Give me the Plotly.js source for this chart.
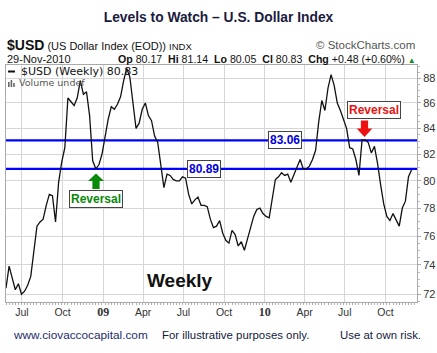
<!DOCTYPE html>
<html><head><meta charset="utf-8">
<script src="https://cdn.plot.ly/plotly-3.0.1.min.js"></script>
<style>html,body{margin:0;padding:0;background:#fff;}#chart{width:437px;height:353px;}</style>
</head><body><div id="chart"></div>
<script>
// ---- data ----
const firstWeek = '2008-05-26';   // weekly bars (Mondays)
const usdWeekly = [
 72.4,73.9,73.1,72.3,72.7,72.0,72.2,72.6,73.2,75.1,
 76.7,77.0,77.2,78.2,79.0,78.9,77.0,79.9,81.4,82.5,
 86.4,86.1,85.8,86.4,87.8,86.7,86.9,85.0,81.5,80.9,
 81.2,82.0,83.3,84.7,85.7,85.5,85.9,86.5,87.8,88.8,
 88.1,86.0,84.0,84.4,85.5,86.0,85.0,84.6,83.4,82.9,
 81.0,79.5,80.5,80.4,80.1,80.0,80.0,80.3,80.2,79.0,
 78.3,78.6,78.8,78.2,78.2,78.1,77.2,76.6,76.7,77.1,
 76.2,75.7,75.5,76.4,76.1,75.3,75.6,75.0,75.8,76.6,
 77.4,77.9,78.0,77.6,77.4,77.3,78.8,80.1,80.3,80.6,
 80.4,80.5,79.9,80.5,81.0,81.6,80.9,80.9,81.1,81.6,
 82.3,84.5,86.2,85.4,87.2,88.3,87.4,86.0,85.4,84.6,
 84.0,82.5,82.4,81.6,80.4,83.1,83.1,82.9,82.1,82.6,
 81.3,79.7,78.3,77.4,77.1,77.6,77.1,76.7,78.0,78.5,
 80.3,80.83
];
const levels = [83.06, 80.89];
const levelLabels = ['83.06', '80.89'];
const xTickVals = ['2008-07-01','2008-10-01','2009-01-01','2009-04-01','2009-07-01',
                   '2009-10-01','2010-01-01','2010-04-01','2010-07-01','2010-10-01'];
const xTickText = ['Jul','Oct','<span style="font-family:Liberation Serif;font-weight:bold;font-size:12px">09</span>','Apr','Jul',
                   'Oct','<span style="font-family:Liberation Serif;font-weight:bold;font-size:12px">10</span>','Apr','Jul','Oct'];
const yTickVals = [72,74,76,78,80,82,84,86,88];

// ---- derived ----
const DAY = 86400000;
const t0 = Date.parse(firstWeek + 'T00:00:00Z');
const dates = usdWeekly.map((v, i) => new Date(t0 + i * 7 * DAY).toISOString().slice(0, 10));
const xRange = ['2008-05-26', '2010-12-11 05:00'];
const yRange = [Math.log10(71.48), Math.log10(89.09)];
const minorY = [];
for (let v = 71.5; v <= 89; v += 0.5) minorY.push(v);

const L = 6, T = 65, W = 411, H = 237;
const px = x => (x - L) / W;
const py = y => 1 - (y - T) / H;
const pyVal = v => (Math.log10(v) - yRange[0]) / (yRange[1] - yRange[0]);

const FONT = 'Liberation Sans, Arial, sans-serif';

const traces = levels.map(lv => ({
  x: xRange, y: [lv, lv], mode: 'lines', hoverinfo: 'skip',
  line: {color: '#0000ff', width: 2.2}
}));
traces.push({
  x: dates, y: usdWeekly, mode: 'lines', hoverinfo: 'skip',
  line: {color: '#111111', width: 1.3}
});

function arrowUp(cx, tipY, baseY, headY, hw, sw, color) {
  const p = `M${px(cx)},${py(tipY)} L${px(cx+hw)},${py(headY)} L${px(cx+sw)},${py(headY)} L${px(cx+sw)},${py(baseY)} L${px(cx-sw)},${py(baseY)} L${px(cx-sw)},${py(headY)} L${px(cx-hw)},${py(headY)} Z`;
  return {type: 'path', xref: 'paper', yref: 'paper', path: p, fillcolor: color, line: {color: color, width: 0}};
}

const shapes = [
  arrowUp(96, 173.5, 189, 181, 8, 3.6, '#0a8a0a'),
  arrowUp(364.5, 137, 120.5, 128.5, 7.8, 3.6, '#ee1111'),
  // volume icon bars
  {type:'rect', xref:'paper', yref:'paper', x0:px(8), x1:px(9.6), y0:py(87), y1:py(82), fillcolor:'#666', line:{width:0}},
  {type:'rect', xref:'paper', yref:'paper', x0:px(10.6), x1:px(12.2), y0:py(87), y1:py(80), fillcolor:'#666', line:{width:0}},
  {type:'rect', xref:'paper', yref:'paper', x0:px(13.2), x1:px(14.8), y0:py(87), y1:py(83), fillcolor:'#666', line:{width:0}},
  // legend dash
  {type:'line', xref:'paper', yref:'paper', x0:px(8), x1:px(15), y0:py(71.5), y1:py(71.5), line:{color:'#111', width:2}}
];

const ann = [];
function A(o) { ann.push(Object.assign({xref:'paper', yref:'paper', showarrow:false}, o)); }

// level labels
A({x: px(285), y: pyVal(levels[0]), text: '<b>' + levelLabels[0] + '</b>', font:{family:FONT, size:12, color:'#0000dd'},
   bgcolor:'#fff', bordercolor:'#444', borderwidth:1, borderpad:1, xanchor:'center', yanchor:'middle'});
A({x: px(203.5), y: pyVal(levels[1]), text: '<b>' + levelLabels[1] + '</b>', font:{family:FONT, size:12, color:'#0000dd'},
   bgcolor:'#fff', bordercolor:'#444', borderwidth:1, borderpad:1, xanchor:'center', yanchor:'middle'});
// reversal labels
A({x: px(96), y: py(198.5), text: '<b>Reversal</b>', font:{family:FONT, size:12, color:'#0a8a0a'},
   bgcolor:'#fff', bordercolor:'#444', borderwidth:1, borderpad:1, xanchor:'center', yanchor:'middle'});
A({x: px(373.5), y: py(110), text: '<b>Reversal</b>', font:{family:FONT, size:12, color:'#ee1111'},
   bgcolor:'#fff', bordercolor:'#444', borderwidth:1, borderpad:1, xanchor:'center', yanchor:'middle'});
// weekly
A({x: px(180), y: py(280), text: '<b>Weekly</b>', font:{family:FONT, size:19, color:'#111'}, xanchor:'center', yanchor:'middle'});
// legend text
A({x: px(19), y: py(71.5), text: '$USD (Weekly) 80.83', font:{family:'DejaVu Sans', size:11, color:'#111'}, xanchor:'left', yanchor:'middle'});
A({x: px(17), y: py(83), text: 'Volume undef', font:{family:'DejaVu Sans', size:9.5, color:'#555'}, xanchor:'left', yanchor:'middle'});
// header
A({x: px(5), y: py(45), text: '<span style="font-size:14px"><b>$USD</b></span> (US Dollar Index (EOD)) <span style="font-size:9.5px">INDX</span>',
   font:{family:FONT, size:11, color:'#111'}, xanchor:'left', yanchor:'middle'});
A({x: px(417), y: py(45), text: '© StockCharts.com', font:{family:FONT, size:11.5, color:'#555'}, xanchor:'right', yanchor:'middle'});
A({x: px(5), y: py(58.5), text: '29-Nov-2010', font:{family:FONT, size:11, color:'#111'}, xanchor:'left', yanchor:'middle'});
A({x: px(418), y: py(58.5), text: '<b>Op</b> 80.17  <b>Hi</b> 81.14  <b>Lo</b> 80.05  <b>Cl</b> 80.83  <b>Chg</b> +0.48 (+0.60%) <span style="color:#1a8a1a;font-size:8px">▲</span>',
   font:{family:FONT, size:10.6, color:'#111'}, xanchor:'right', yanchor:'middle'});
// footer
A({x: px(11), y: py(335), text: 'www.ciovaccocapital.com', font:{family:FONT, size:11.8, color:'#1c2d6b'}, xanchor:'left', yanchor:'middle'});
A({x: px(160), y: py(335), text: 'For illustrative purposes only.', font:{family:FONT, size:11.4, color:'#111a40'}, xanchor:'left', yanchor:'middle'});
A({x: px(338), y: py(335), text: 'Use at own risk.', font:{family:FONT, size:11.4, color:'#111a40'}, xanchor:'left', yanchor:'middle'});

const layout = {
  width: 437, height: 353,
  margin: {l: L, r: 437 - L - W, t: T, b: 353 - T - H, pad: 0},
  paper_bgcolor: '#fff', plot_bgcolor: '#fff',
  showlegend: false,
  title: {text: '<b>Levels to Watch – U.S. Dollar Index</b>', font: {family: FONT, size: 13.8, color: '#1b1b3d'},
          x: 0.5, xanchor: 'center', y: 1 - 17.5 / 353, yanchor: 'middle'},
  xaxis: {
    type: 'date', range: xRange, tickmode: 'array', tickvals: xTickVals, ticktext: xTickText,
    showgrid: true, gridcolor: '#d6d6d6', gridwidth: 1, zeroline: false,
    showline: true, linecolor: '#aaaaaa', linewidth: 1, mirror: true,
    ticks: '', tickfont: {family: FONT, size: 10.5, color: '#333'},
    minor: {ticks: 'outside', ticklen: 2, tickcolor: '#b0b0b0', tickmode: 'linear', tick0: firstWeek, dtick: 7 * DAY, showgrid: false},
    fixedrange: true
  },
  yaxis: {
    type: 'log', side: 'right', range: yRange, tickmode: 'array', tickvals: yTickVals,
    ticktext: yTickVals.map(String),
    showgrid: true, gridcolor: '#d6d6d6', gridwidth: 1, zeroline: false,
    showline: true, linecolor: '#aaaaaa', linewidth: 1, mirror: true,
    ticks: 'outside', ticklen: 3, tickcolor: '#aaa',
    tickfont: {family: FONT, size: 11, color: '#333'},
    minor: {tickmode: 'array', tickvals: minorY, ticks: 'outside', ticklen: 2, tickcolor: '#bbb', showgrid: false},
    fixedrange: true
  },
  shapes: shapes,
  annotations: ann
};

Plotly.newPlot('chart', traces, layout, {displayModeBar: false, staticPlot: true});
</script>
</body></html>
